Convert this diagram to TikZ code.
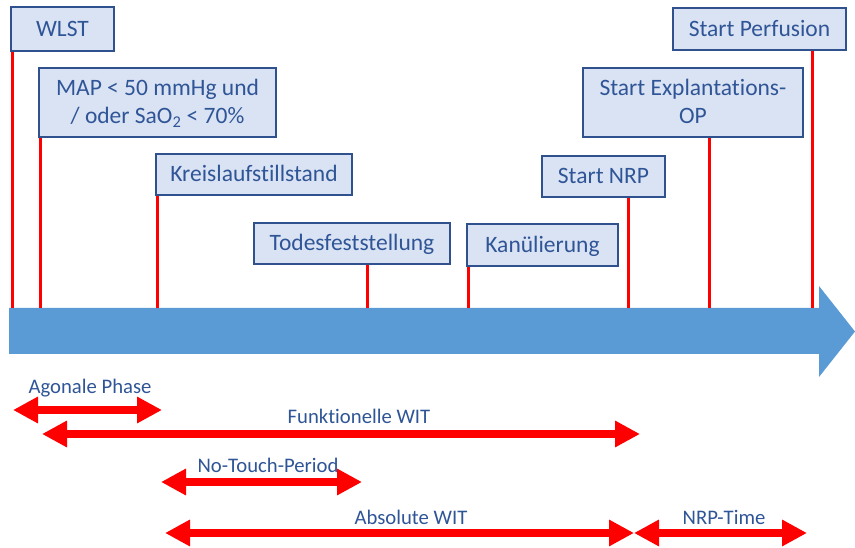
\documentclass[tikz,border=0pt]{standalone}
\usepackage{fontspec}
\setmainfont{Carlito}[Ligatures=NoCommon]
\usetikzlibrary{arrows.meta}
\definecolor{txtblue}{HTML}{2F5597}
\definecolor{boxfill}{HTML}{DAE3F3}
\definecolor{boxdraw}{HTML}{2F528F}
\definecolor{barblue}{HTML}{5B9BD5}
\definecolor{tickred}{HTML}{FF0000}
\begin{document}
\begin{tikzpicture}[x=1pt,y=-1pt,
  evbox/.style={draw=boxdraw, fill=boxfill, line width=2pt, text=txtblue,
    font=\fontsize{23.5}{28}\selectfont, inner sep=0pt, align=center,
    text height=15pt, text depth=0pt},
  twoline/.style={text height=43pt, text depth=0pt},
  tickline/.style={draw=tickred, line width=3pt},
  spanarrow/.style={draw=tickred, line width=8pt,
    {Triangle[width=25pt,length=25pt]}-{Triangle[width=25pt,length=25pt]}},
  spanlbl/.style={text=txtblue, font=\fontsize{20.7}{24}\selectfont, inner sep=0pt, anchor=base}]
\useasboundingbox (0,0) rectangle (855,548);

% timeline bar
\fill[barblue] (9,308) -- (819,308) -- (819,286) -- (855,331.5) -- (819,377) -- (819,354) -- (9,354) -- cycle;

% event boxes
\node[evbox, minimum width=103pt, minimum height=44pt] (wlst) at (62.5,29.5) {WLST};
\node[evbox, twoline, minimum width=237pt, minimum height=69pt] (map) at (157.5,102.5) {MAP < 50 mmHg und\\/ oder SaO\textsubscript{2} < 70\%};
\node[evbox, minimum width=196pt, minimum height=41pt] (kreis) at (254,174.5) {Kreislaufstillstand};
\node[evbox, minimum width=196pt, minimum height=41pt] (tod) at (352,243.5) {Todesfeststellung};
\node[evbox, minimum width=151pt, minimum height=42pt] (kan) at (542.5,245) {Kanülierung};
\node[evbox, minimum width=123pt, minimum height=41pt] (nrp) at (603.5,176.5) {Start NRP};
\node[evbox, twoline, minimum width=220pt, minimum height=69pt] (expl) at (693,102.5) {Start Explantations-\\OP};
\node[evbox, minimum width=173pt, minimum height=42pt] (perf) at (759.5,29) {Start Perfusion};

% ticks from boxes to bar
\coordinate (bartop) at (0,308);
\draw[tickline] (wlst.south -| 12,0) -- (bartop -| 12,0);
\draw[tickline] (map.south -| 40.5,0) -- (bartop -| 40.5,0);
\draw[tickline] (kreis.south -| 157,0) -- (bartop -| 157,0);
\draw[tickline] (tod.south -| 367.8,0) -- (bartop -| 367.8,0);
\draw[tickline] (kan.south -| 468.5,0) -- (bartop -| 468.5,0);
\draw[tickline] (nrp.south -| 628.3,0) -- (bartop -| 628.3,0);
\draw[tickline] (expl.south -| 709.3,0) -- (bartop -| 709.3,0);
\draw[tickline] (perf.south -| 812.5,0) -- (bartop -| 812.5,0);

% span arrows
\coordinate (ag1) at (13,410);   \coordinate (ag2) at (162,410);
\coordinate (fw1) at (42,434);   \coordinate (fw2) at (640,434);
\coordinate (nt1) at (161,482);  \coordinate (nt2) at (362,482);
\coordinate (aw1) at (165,533);  \coordinate (aw2) at (634,533);
\coordinate (nr1) at (634,533);  \coordinate (nr2) at (807,533);
\draw[spanarrow] (ag1) -- (ag2);
\draw[spanarrow] (fw1) -- (fw2);
\draw[spanarrow] (nt1) -- (nt2);
\draw[spanarrow] (aw1) -- (aw2);
\draw[spanarrow] (nr1) -- (nr2);

% span labels
\node[spanlbl] (lag) at (90,393) {Agonale Phase};
\node[spanlbl] (lfw) at (359,423) {Funktionelle WIT};
\node[spanlbl] (lnt) at (268,472) {No-Touch-Period};
\node[spanlbl] (law) at (411,524) {Absolute WIT};
\node[spanlbl] (lnr) at (724,524) {NRP-Time};
\end{tikzpicture}
\end{document}
